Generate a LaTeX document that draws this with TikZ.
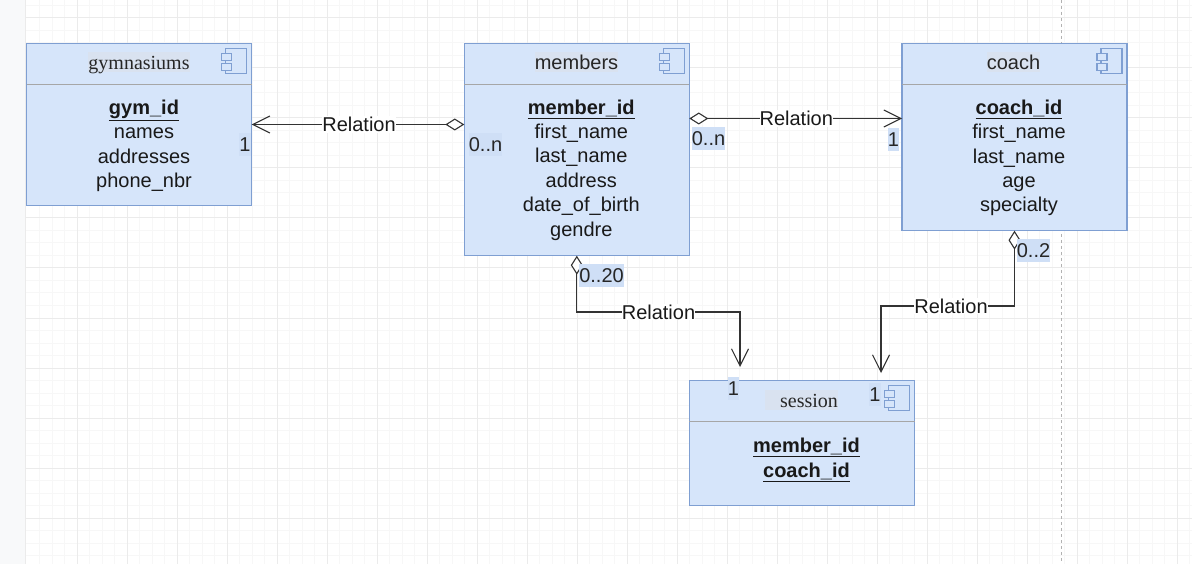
\documentclass[tikz,border=0pt]{standalone}
\usepackage{fontspec}
\setmainfont{Liberation Sans}
\newfontfamily\titleserif{Liberation Serif}
\usetikzlibrary{arrows.meta}

\definecolor{boxfill}{HTML}{D6E5FA}
\definecolor{boxline}{HTML}{7F9FD2}
\definecolor{lblfill}{HTML}{CFDFF6}
\definecolor{titlefill}{HTML}{D9E2F0}
\definecolor{gridmajor}{HTML}{EBEBEB}
\definecolor{gridminor}{HTML}{F7F7F7}
\definecolor{panelfill}{HTML}{F8F9FA}

\tikzset{
  tablebox/.style={draw=boxline,fill=boxfill,line width=1.2pt,inner sep=0pt,outer sep=0pt,anchor=north west},
  bodytext/.style={align=center,inner sep=0pt,text=black!90,font=\fontsize{20}{24.4}\selectfont},
  titlelbl/.style={fill=titlefill,inner xsep=0pt,minimum height=20pt,inner ysep=0pt,text height=17.5pt,text depth=2.5pt,text=black!85,font=\fontsize{20}{24}\selectfont},
  multlbl/.style={fill=lblfill,inner sep=0pt,minimum height=23pt,text height=15pt,text depth=1pt,text=black!85,font=\fontsize{20}{24}\selectfont},
  rellbl/.style={fill=white,inner xsep=0pt,inner ysep=1pt,text=black!90,font=\fontsize{20}{24}\selectfont},
  relation/.style={draw=black!80,line width=1.2pt,{Diamond[open,fill=white,length=19pt,width=12pt,line width=1.1pt]}-{Straight Barb[length=17pt,width=17pt,line width=1.1pt]}},
  comppart/.style={draw=boxline,line width=1.2pt,fill=boxfill}
}

% component symbol, #1 = top right corner of the box
\newcommand{\compicon}[1]{
  \draw[comppart] ([shift={(-26pt,-5pt)}]#1) rectangle ([shift={(-5pt,-30pt)}]#1);
  \draw[comppart] ([shift={(-30pt,-10pt)}]#1) rectangle ([shift={(-20pt,-17pt)}]#1);
  \draw[comppart] ([shift={(-30pt,-20pt)}]#1) rectangle ([shift={(-20pt,-27pt)}]#1);
}

\begin{document}
\begin{tikzpicture}[x=1pt,y=-1pt]
  \useasboundingbox (0,0) rectangle (1192,564);
  \fill[white] (0,0) rectangle (1192,564);

  % grid
  \foreach \gx in {39.5,52,...,1192}
    \draw[gridminor,line width=1pt] (\gx,0) -- (\gx,564);
  \foreach \gy in {5.5,18,...,564}
    \draw[gridminor,line width=1pt] (25,\gy) -- (1192,\gy);
  \foreach \gx in {77,127,...,1192}
    \draw[gridmajor,line width=1pt] (\gx,0) -- (\gx,564);
  \foreach \gy in {18,68,...,564}
    \draw[gridmajor,line width=1pt] (25,\gy) -- (1192,\gy);
  \draw[black!30,dashed,line width=1pt] (1061,0) -- (1061,564);
  \fill[panelfill] (0,0) rectangle (25,564);
  \draw[gridmajor,line width=1pt] (25.5,0) -- (25.5,564);

  % boxes
  \node[tablebox,minimum width=225pt,minimum height=162.4pt] (gym) at (26.7,43.3) {};
  \node[tablebox,minimum width=225pt,minimum height=212.4pt] (members) at (464.3,43.3) {};
  \node[tablebox,minimum width=225pt,minimum height=187.4pt] (coach) at (902,43.3) {};
  \node[tablebox,minimum width=225.4pt,minimum height=125pt] (session) at (689.3,380.7) {};

  % header rules and symbols
  \foreach \boxname in {gym,members,coach,session} {
    \draw[black!35,line width=1pt] ([yshift=-41pt]\boxname.north west) -- ([yshift=-41pt]\boxname.north east);
    \compicon{\boxname.north east}
  }

  % titles
  \node[titlelbl,minimum width=100pt] (gymtitle) at (139,62) {\titleserif gymnasiums};
  \node[titlelbl,minimum width=83pt] (memberstitle) at (576.5,62) {members};
  \node[titlelbl,minimum width=53pt] (coachtitle) at (1013.5,62) {coach};
  \node[titlelbl] (sessiontitle) at (801.5,399.5) {\hspace*{15pt}\titleserif session};

  % attributes
  \node[bodytext] (gymbody) at (144,146) {\underline{\textbf{gym\_id}}\\names\\addresses\\phone\_nbr};
  \node[bodytext] (membersbody) at (581.3,170) {\underline{\textbf{member\_id}}\\first\_name\\last\_name\\address\\date\_of\_birth\\gendre};
  \node[bodytext] (coachbody) at (1019,158) {\underline{\textbf{coach\_id}}\\first\_name\\last\_name\\age\\specialty};
  \node[bodytext] (sessionbody) at (806.5,460) {\underline{\textbf{member\_id}}\\\underline{\textbf{coach\_id}}};

  % free ends above the session box
  \coordinate (sessionin1) at (740,367);
  \coordinate (sessionin2) at (881,373);

  % relations
  \draw[relation] (members.west |- gym.east) -- (gym.east)
    node[rellbl,pos=.495] (rel1) {Relation};
  \draw[relation] ([yshift=31pt]members.east) -- ([yshift=18.5pt]coach.west)
    node[rellbl,pos=.503] (rel2) {Relation};
  \draw[relation] (members.south) |- (sessionin1 |- 0,312) -- (sessionin1);
  \draw[relation] (coach.south) |- (sessionin2 |- 0,306) -- (sessionin2);
  \node[rellbl] (rel3) at (658.5,312) {Relation};
  \node[rellbl] (rel4) at (951,306) {Relation};

  % multiplicities
  \node[multlbl] (m1) at (245,145) {1};
  \node[multlbl] (m2) at (485.5,144.5) {0..n};
  \node[multlbl] (m3) at (708.5,138.5) {0..n};
  \node[multlbl] (m4) at (893.5,139.5) {1};
  \node[multlbl] (m5) at (601.5,276) {0..20};
  \node[multlbl] (m6) at (1033.5,251) {0..2};
  \node[multlbl] (m7) at (733.5,388.5) {1};
  \node[multlbl] (m8) at (875,394.5) {1};
\end{tikzpicture}
\end{document}
